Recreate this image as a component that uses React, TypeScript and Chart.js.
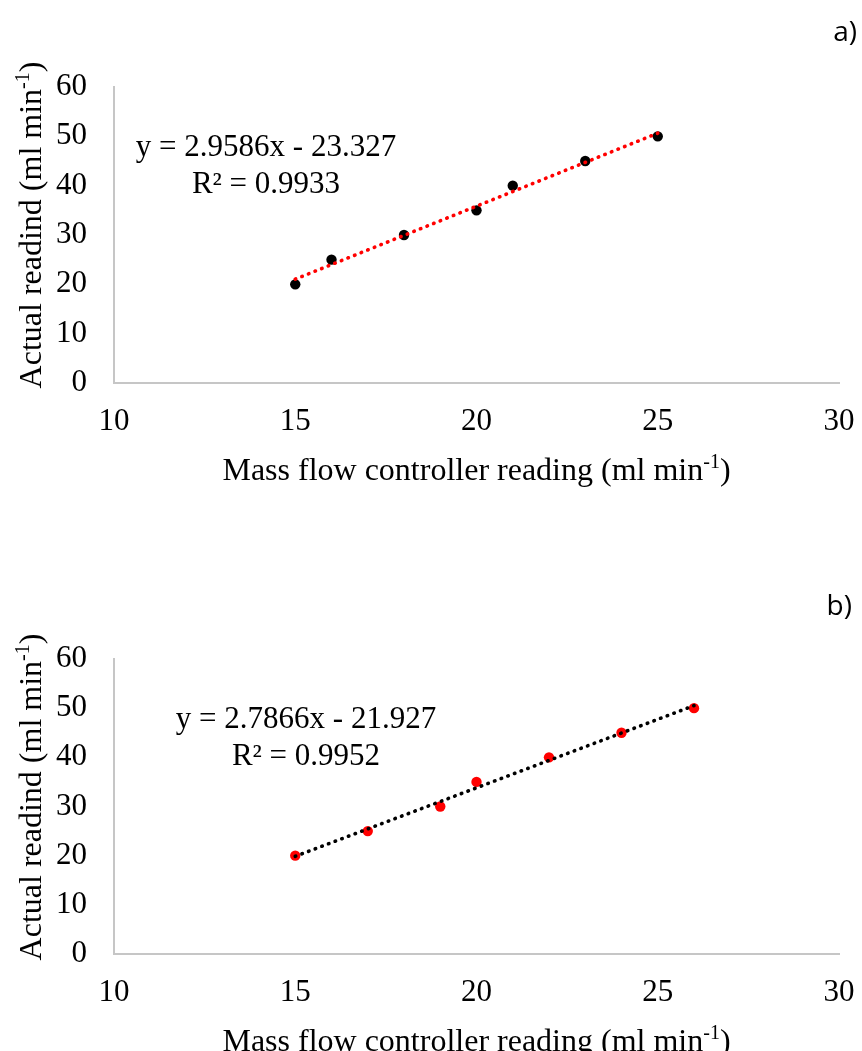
import React, { useEffect, useRef } from "react";
import { Chart, registerables } from "chart.js";

Chart.register(...registerables);

// ---------- data ----------
const X_TICKS = [10, 15, 20, 25, 30];
const Y_TICKS = [0, 10, 20, 30, 40, 50, 60];

const MFC_A = [15, 16, 18, 20, 21, 23, 25];
const ACTUAL_A = [20, 25, 30, 35, 40, 45, 50];
const TREND_A_X = [15, 25];
const TREND_A_Y = [21.05, 50.64];
const EQ_A = ["y = 2.9586x - 23.327", "R² = 0.9933"];

const MFC_B = [15, 17, 19, 20, 22, 24, 26];
const ACTUAL_B = [20, 25, 30, 35, 40, 45, 50];
const TREND_B_X = [15, 26];
const TREND_B_Y = [19.87, 50.52];
const EQ_B = ["y = 2.7866x - 21.927", "R² = 0.9952"];

const X_TITLE = [{ t: "Mass flow controller reading (ml min" }, { t: "-1", sup: true }, { t: ")" }];
const Y_TITLE = [{ t: "Actual readind (ml min" }, { t: "-1", sup: true }, { t: ")" }];

// ---------- layout / style ----------
const SERIF = '"Liberation Serif", "Times New Roman", serif';
const W = 862;

type Part = { t: string; sup?: boolean };

type Panel = {
  top: number;
  height: number;
  plotTop: number;
  plotBottom: number;
  mfc: number[];
  actual: number[];
  trendX: number[];
  trendY: number[];
  pointColor: string;
  trendColor: string;
  eq: string[];
  eqX: number;
  label: string;
  labelX: number;
  labelY: number;
};

const PANELS: Panel[] = [
  {
    top: 0,
    height: 540,
    plotTop: 87,
    plotBottom: 383,
    mfc: MFC_A,
    actual: ACTUAL_A,
    trendX: TREND_A_X,
    trendY: TREND_A_Y,
    pointColor: "#000000",
    trendColor: "#ff0000",
    eq: EQ_A,
    eqX: 266,
    label: "a)",
    labelX: 857,
    labelY: 41,
  },
  {
    top: 560,
    height: 491,
    plotTop: 99,
    plotBottom: 394,
    mfc: MFC_B,
    actual: ACTUAL_B,
    trendX: TREND_B_X,
    trendY: TREND_B_Y,
    pointColor: "#ff0000",
    trendColor: "#000000",
    eq: EQ_B,
    eqX: 306,
    label: "b)",
    labelX: 852,
    labelY: 55,
  },
];

function drawRich(ctx: CanvasRenderingContext2D, parts: Part[], cx: number, baseY: number, size: number) {
  const base = `${size}px ${SERIF}`;
  const sup = `${Math.round(size * 0.62)}px ${SERIF}`;
  let total = 0;
  const widths = parts.map((p) => {
    ctx.font = p.sup ? sup : base;
    const w = ctx.measureText(p.t).width;
    total += w;
    return w;
  });
  let x = cx - total / 2;
  ctx.textAlign = "left";
  ctx.textBaseline = "alphabetic";
  parts.forEach((p, i) => {
    ctx.font = p.sup ? sup : base;
    ctx.fillText(p.t, x, p.sup ? baseY - size * 0.36 : baseY);
    x += widths[i];
  });
}

function PanelChart({ p }: { p: Panel }) {
  const ref = useRef<HTMLCanvasElement | null>(null);

  useEffect(() => {
    if (!ref.current) return;

    const decor = {
      id: "decor" + p.label,
      afterDraw(chart: any) {
        const ctx: CanvasRenderingContext2D = chart.ctx;
        const area = chart.chartArea;
        ctx.save();
        ctx.fillStyle = "#000";
        // equation
        ctx.font = `31px ${SERIF}`;
        ctx.textAlign = "center";
        ctx.textBaseline = "alphabetic";
        ctx.fillText(p.eq[0], p.eqX, area.top + 69);
        ctx.fillText(p.eq[1], p.eqX, area.top + 106);
        // x title
        drawRich(ctx, X_TITLE, (area.left + area.right) / 2, area.bottom + 97, 32);
        // y title
        ctx.save();
        ctx.translate(41, area.top + 138);
        ctx.rotate(-Math.PI / 2);
        drawRich(ctx, Y_TITLE, 0, 0, 32);
        ctx.restore();
        // panel label
        ctx.font = `28px "Open Sans", "Liberation Sans", sans-serif`;
        ctx.textAlign = "right";
        ctx.textBaseline = "alphabetic";
        ctx.fillText(p.label, p.labelX, p.labelY);
        ctx.restore();
      },
    };

    const chart = new Chart(ref.current, {
      type: "scatter",
      data: {
        datasets: [
          {
            type: "line",
            data: p.trendX.map((x, i) => ({ x, y: p.trendY[i] })),
            showLine: true,
            borderColor: p.trendColor,
            borderWidth: 3.6,
            borderDash: [0.5, 6.6],
            borderCapStyle: "round",
            pointRadius: 0,
            fill: false,
          } as any,
          {
            data: p.mfc.map((x, i) => ({ x, y: p.actual[i] })),
            backgroundColor: p.pointColor,
            borderColor: p.pointColor,
            pointRadius: 5.2,
            pointBorderWidth: 0,
          },
        ],
      },
      options: {
        responsive: false,
        animation: false,
        events: [],
        layout: { padding: { top: p.plotTop, right: W - 839, left: 0, bottom: 0 } },
        plugins: { legend: { display: false }, tooltip: { enabled: false } },
        scales: {
          x: {
            type: "linear",
            min: X_TICKS[0],
            max: X_TICKS[X_TICKS.length - 1],
            afterBuildTicks: (s: any) => {
              s.ticks = X_TICKS.map((v) => ({ value: v }));
            },
            afterFit: (s: any) => {
              s.height = p.height - p.plotBottom;
              s.paddingLeft = 0;
              s.paddingRight = 0;
            },
            grid: { display: false, drawTicks: false, tickLength: 0 },
            border: { display: true, color: "#c6c6c6", width: 2 },
            ticks: {
              color: "#000",
              padding: 20,
              maxRotation: 0,
              font: { family: SERIF, size: 31 },
            },
          },
          y: {
            type: "linear",
            min: Y_TICKS[0],
            max: Y_TICKS[Y_TICKS.length - 1],
            afterBuildTicks: (s: any) => {
              s.ticks = Y_TICKS.map((v) => ({ value: v }));
            },
            afterFit: (s: any) => {
              s.width = 114;
              s.paddingTop = 0;
              s.paddingBottom = 0;
            },
            grid: { display: false, drawTicks: false, tickLength: 0 },
            border: { display: true, color: "#c6c6c6", width: 2 },
            ticks: {
              color: "#000",
              padding: 27,
              font: { family: SERIF, size: 31 },
            },
          },
        },
      },
      plugins: [decor],
    });

    return () => chart.destroy();
  }, [p]);

  return (
    <div style={{ position: "absolute", left: 0, top: p.top, width: W, height: p.height }}>
      <canvas ref={ref} width={W} height={p.height} style={{ width: W, height: p.height, display: "block" }} />
    </div>
  );
}

export default function App() {
  return (
    <div
      style={{
        position: "absolute",
        left: 0,
        top: 0,
        width: W,
        height: 1051,
        background: "#fff",
        overflow: "hidden",
      }}
    >
      {PANELS.map((p) => (
        <PanelChart key={p.label} p={p} />
      ))}
    </div>
  );
}
